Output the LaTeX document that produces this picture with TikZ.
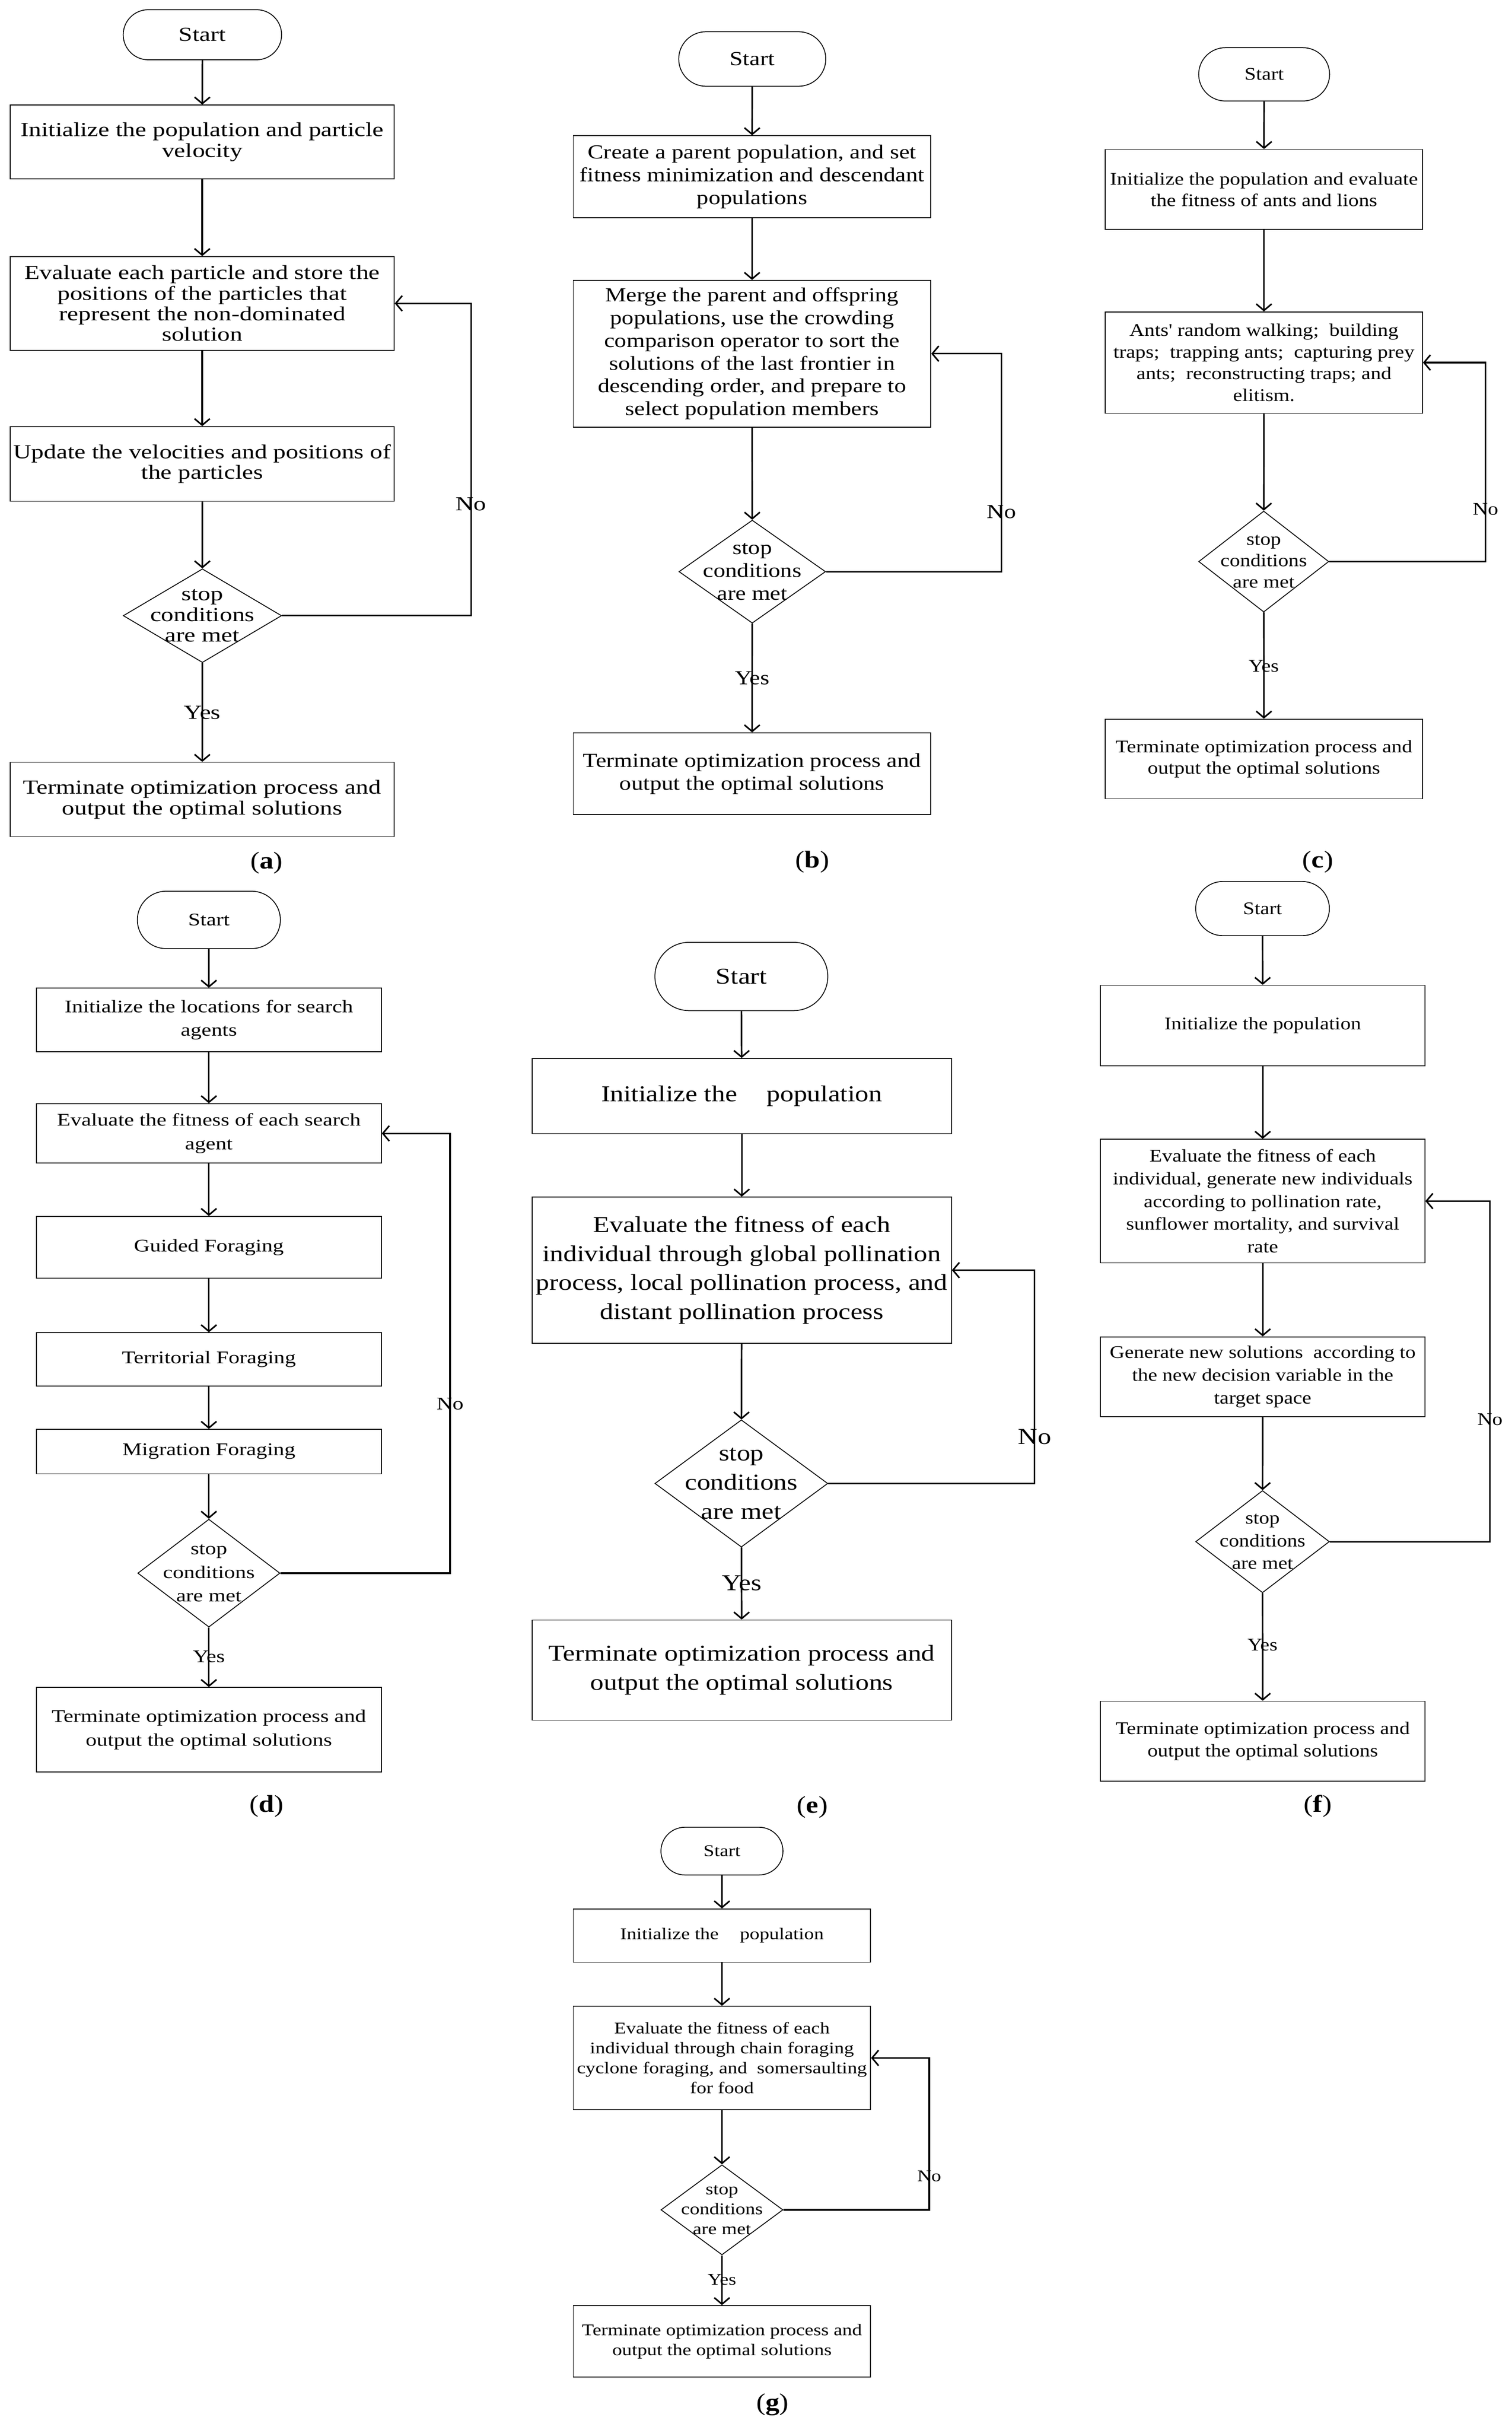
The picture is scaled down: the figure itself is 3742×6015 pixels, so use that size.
\documentclass[tikz,border=0pt]{standalone}
\usepackage{fontspec}
\setmainfont{Liberation Serif}[FakeStretch=1.15]
\newfontfamily\fntA{Liberation Serif}[FakeStretch=1.26]
\newfontfamily\fntB{Liberation Serif}[FakeStretch=1.19]
\newfontfamily\fntC{Liberation Serif}[FakeStretch=1.17]
\newfontfamily\fntD{Liberation Serif}[FakeStretch=1.24]
\newfontfamily\fntE{Liberation Serif}[FakeStretch=1.19]
\newfontfamily\fntF{Liberation Serif}[FakeStretch=1.16]
\newfontfamily\fntG{Liberation Serif}[FakeStretch=1.20]
\usepackage{tikz}
\usetikzlibrary{arrows.meta}
\usetikzlibrary{shapes,positioning}
\tikzset{>={Straight Barb[length=1.6mm,width=3.8mm]},
  flow/.style={->,line width=1.1pt},
  procbox/.style={draw,line width=0.6pt,align=center,inner sep=0pt},
  startbox/.style={draw,rounded rectangle,line width=0.6pt,inner sep=0pt},
  decision/.style={draw,diamond,line width=0.6pt,inner sep=0pt},
  caption/.style={font=\fontsize{17}{20}\selectfont},
  txta/.style={font=\fntA\fontsize{14}{14.5}\selectfont},
  txtb/.style={font=\fntB\fontsize{14}{16}\selectfont},
  txtc/.style={font=\fntC\fontsize{12.5}{15.2}\selectfont},
  txtd/.style={font=\fntD\fontsize{12.5}{16.7}\selectfont},
  txte/.style={font=\fntE\fontsize{16}{20.5}\selectfont},
  txtf/.style={font=\fntF\fontsize{12.5}{16}\selectfont},
  txtg/.style={font=\fntG\fontsize{11.5}{14}\selectfont}}

\begin{document}
\begin{tikzpicture}[x=0.1mm,y=-0.1mm]

  \useasboundingbox (0,0) rectangle (3742,6015);

  % (a)
  \node[startbox,txta,minimum width=39.2mm,minimum height=12.4mm] (startA) at (501,86) {Start};
  \node[procbox,txta,minimum width=95.1mm,minimum height=18.3mm] (initA) at (500.5,351.5)
    {Initialize the population and particle\\velocity};
  \node[procbox,txta,minimum width=95.1mm,minimum height=23.2mm] (evalA) at (500.5,751)
    {Evaluate each particle and store the\\positions of the particles that\\represent the non-dominated\\solution};
  \node[procbox,txta,minimum width=95.1mm,minimum height=18.5mm] (updA) at (500.5,1148.5)
    {Update the velocities and positions of\\the particles};
  \node[decision,minimum width=39.2mm,minimum height=23.2mm,
    label={[txta,align=center]center:stop\\conditions\\are met}] (stopA) at (501,1524) {};
  \node[procbox,txta,minimum width=95.1mm,minimum height=18.4mm] (endA) at (500.5,1979)
    {Terminate optimization process and\\output the optimal solutions};
  \coordinate (turnA) at (1166,1524);
  \node[txta] (noA) at (1166,1248) {No};
  \node[txta] (yesA) at (501,1764) {Yes};
  \node[caption] (capA) at (660,2136) {(\textbf{a})};

  \draw[flow] (startA) -- (initA);
  \draw[flow] (initA) -- (evalA);
  \draw[flow] (evalA) -- (updA);
  \draw[flow] (updA) -- (stopA);
  \draw[flow] (stopA) -- (endA);
  \draw[flow] (stopA.east) -- (turnA) |- (evalA.east);

  % (b)
  \node[startbox,txtb,minimum width=36.4mm,minimum height=13.5mm] (startB) at (1862,146) {Start};
  \node[procbox,txtb,minimum width=88.5mm,minimum height=20.3mm] (initB) at (1861.5,437.5)
    {Create a parent population, and set\\fitness minimization and descendant\\populations};
  \node[procbox,txtb,minimum width=88.5mm,minimum height=36.3mm] (mergeB) at (1861.5,875.5)
    {Merge the parent and offspring\\populations, use the crowding\\comparison operator to sort the\\solutions of the last frontier in\\descending order, and prepare to\\select population members};
  \node[decision,minimum width=36.3mm,minimum height=25.5mm,
    label={[txtb,align=center]center:stop\\conditions\\are met}] (stopB) at (1862,1415) {};
  \node[procbox,txtb,minimum width=88.5mm,minimum height=20.2mm] (endB) at (1861.5,1915)
    {Terminate optimization process and\\output the optimal solutions};
  \coordinate (turnB) at (2479,1415);
  \node[txtb] (noB) at (2479,1267) {No};
  \node[txtb] (yesB) at (1862,1678) {Yes};
  \node[caption] (capB) at (2011,2134) {(\textbf{b})};

  \draw[flow] (startB) -- (initB);
  \draw[flow] (initB) -- (mergeB);
  \draw[flow] (mergeB) -- (stopB);
  \draw[flow] (stopB) -- (endB);
  \draw[flow] (stopB.east) -- (turnB) |- (mergeB.east);

  % (c)
  \node[startbox,txtc,minimum width=32.4mm,minimum height=13.2mm] (startC) at (3129,184) {Start};
  \node[procbox,txtc,minimum width=78.5mm,minimum height=19.8mm] (initC) at (3128.5,469)
    {Initialize the population and evaluate\\the fitness of ants and lions};
  \node[procbox,txtc,minimum width=78.5mm,minimum height=25.1mm] (antsC) at (3128.5,897.5)
    {Ants' random walking;\ \ building\\traps;\ \ trapping ants;\ \ capturing prey\\ants;\ \ reconstructing traps; and\\elitism.};
  \node[decision,minimum width=32.2mm,minimum height=25mm,
    label={[txtc,align=center]center:stop\\conditions\\are met}] (stopC) at (3128,1390) {};
  \node[procbox,txtc,minimum width=78.5mm,minimum height=19.7mm] (endC) at (3128.5,1878.5)
    {Terminate optimization process and\\output the optimal solutions};
  \coordinate (turnC) at (3677,1390);
  \node[txtc] (noC) at (3677,1260) {No};
  \node[txtc] (yesC) at (3128,1649) {Yes};
  \node[caption] (capC) at (3262,2134) {(\textbf{c})};

  \draw[flow] (startC) -- (initC);
  \draw[flow] (initC) -- (antsC);
  \draw[flow] (antsC) -- (stopC);
  \draw[flow] (stopC) -- (endC);
  \draw[flow] (stopC.east) -- (turnC) |- (antsC.east);

  % (d)
  \node[startbox,txtd,minimum width=35.4mm,minimum height=14.2mm] (startD) at (517,2277) {Start};
  \node[procbox,txtd,minimum width=85.4mm,minimum height=15.7mm] (initD) at (517,2524.5)
    {Initialize the locations for search\\agents};
  \node[procbox,txtd,minimum width=85.4mm,minimum height=14.7mm] (evalD) at (517,2805.5)
    {Evaluate the fitness of each search\\agent};
  \node[procbox,txtd,minimum width=85.4mm,minimum height=15.3mm] (guideD) at (517,3087.5)
    {Guided Foraging};
  \node[procbox,txtd,minimum width=85.4mm,minimum height=13.2mm] (terrD) at (517,3365)
    {Territorial Foraging};
  \node[procbox,txtd,minimum width=85.4mm,minimum height=11mm] (migD) at (517,3593)
    {Migration Foraging};
  \node[decision,minimum width=35.2mm,minimum height=26.7mm,
    label={[txtd,align=center]center:stop\\conditions\\are met}] (stopD) at (517,3894) {};
  \node[procbox,txtd,minimum width=85.4mm,minimum height=20.9mm] (endD) at (517,4281.5)
    {Terminate optimization process and\\output the optimal solutions};
  \coordinate (turnD) at (1114,3894);
  \node[txtd] (noD) at (1114,3475) {No};
  \node[txtd] (yesD) at (517,4101) {Yes};
  \node[caption] (capD) at (660,4471) {(\textbf{d})};

  \draw[flow] (startD) -- (initD);
  \draw[flow] (initD) -- (evalD);
  \draw[flow] (evalD) -- (guideD);
  \draw[flow] (guideD) -- (terrD);
  \draw[flow] (terrD) -- (migD);
  \draw[flow] (migD) -- (stopD);
  \draw[flow] (stopD) -- (endD);
  \draw[flow] (stopD.east) -- (turnD) |- (evalD.east);

  % (e)
  \node[startbox,txte,minimum width=42.8mm,minimum height=16.9mm] (startE) at (1835,2417) {Start};
  \node[procbox,txte,minimum width=103.8mm,minimum height=18.6mm] (initE) at (1836,2713)
    {Initialize the \quad population};
  \node[procbox,txte,minimum width=103.8mm,minimum height=36.2mm] (evalE) at (1836,3144)
    {Evaluate the fitness of each\\individual through global pollination\\process, local pollination process, and\\distant pollination process};
  \node[decision,minimum width=42.8mm,minimum height=31.5mm,
    label={[txte,align=center]center:stop\\conditions\\are met}] (stopE) at (1835,3672) {};
  \node[procbox,txte,minimum width=103.8mm,minimum height=24.8mm] (endE) at (1836,4134)
    {Terminate optimization process and\\output the optimal solutions};
  \coordinate (turnE) at (2561,3672);
  \node[txte] (noE) at (2561,3557) {No};
  \node[txte] (yesE) at (1836,3919) {Yes};
  \node[caption] (capE) at (2011,4473) {(\textbf{e})};

  \draw[flow] (startE) -- (initE);
  \draw[flow] (initE) -- (evalE);
  \draw[flow] (evalE) -- (stopE);
  \draw[flow] (stopE) -- (endE);
  \draw[flow] (stopE.east) -- (turnE) |- (evalE.east);

  % (f)
  \node[startbox,txtf,minimum width=33.1mm,minimum height=13.4mm] (startF) at (3125,2249) {Start};
  \node[procbox,txtf,minimum width=80.3mm,minimum height=19.9mm] (initF) at (3125.5,2538.5)
    {Initialize the population};
  \node[procbox,txtf,minimum width=80.3mm,minimum height=30.6mm] (evalF) at (3125.5,2973)
    {Evaluate the fitness of each\\individual, generate new individuals\\according to pollination rate,\\sunflower mortality, and survival\\rate};
  \node[procbox,txtf,minimum width=80.3mm,minimum height=19.8mm] (genF) at (3125.5,3408)
    {Generate new solutions\ \ according to\\the new decision variable in the\\target space};
  \node[decision,minimum width=33.1mm,minimum height=25.3mm,
    label={[txtf,align=center]center:stop\\conditions\\are met}] (stopF) at (3125,3816) {};
  \node[procbox,txtf,minimum width=80.3mm,minimum height=19.8mm] (endF) at (3125.5,4310)
    {Terminate optimization process and\\output the optimal solutions};
  \coordinate (turnF) at (3688,3816);
  \node[txtf] (noF) at (3688,3514) {No};
  \node[txtf] (yesF) at (3125,4072) {Yes};
  \node[caption] (capF) at (3262,4471) {(\textbf{f})};

  \draw[flow] (startF) -- (initF);
  \draw[flow] (initF) -- (evalF);
  \draw[flow] (evalF) -- (genF);
  \draw[flow] (genF) -- (stopF);
  \draw[flow] (stopF) -- (endF);
  \draw[flow] (stopF.east) -- (turnF) |- (evalF.east);

  % (g)
  \node[startbox,txtg,minimum width=30.2mm,minimum height=11.8mm] (startG) at (1787,4582) {Start};
  \node[procbox,txtg,minimum width=73.6mm,minimum height=13.2mm] (initG) at (1787,4791)
    {Initialize the \quad population};
  \node[procbox,txtg,minimum width=73.6mm,minimum height=25.6mm] (evalG) at (1787,5094)
    {Evaluate the fitness of each\\individual through chain foraging\\cyclone foraging, and\ \ somersaulting\\for food};
  \node[decision,minimum width=30.2mm,minimum height=22.3mm,
    label={[txtg,align=center]center:stop\\conditions\\are met}] (stopG) at (1787,5470) {};
  \node[procbox,txtg,minimum width=73.6mm,minimum height=17.7mm] (endG) at (1787,5795.5)
    {Terminate optimization process and\\output the optimal solutions};
  \coordinate (turnG) at (2300,5470);
  \node[txtg] (noG) at (2300,5386) {No};
  \node[txtg] (yesG) at (1787,5643) {Yes};
  \node[caption] (capG) at (1912,5952) {(\textbf{g})};

  \draw[flow] (startG) -- (initG);
  \draw[flow] (initG) -- (evalG);
  \draw[flow] (evalG) -- (stopG);
  \draw[flow] (stopG) -- (endG);
  \draw[flow] (stopG.east) -- (turnG) |- (evalG.east);

\end{tikzpicture}
\end{document}
